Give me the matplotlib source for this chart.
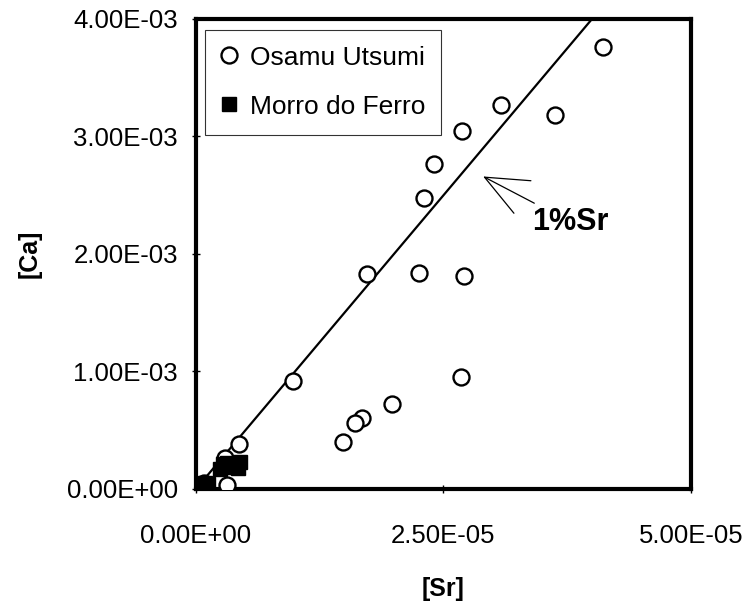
import numpy as np
import matplotlib
matplotlib.use('Agg')
import matplotlib.pyplot as plt

plt.rcParams['font.family'] = ['Liberation Sans', 'DejaVu Sans']

# Osamu Utsumi samples (Sr, Ca)
utsumi_sr = [4.11e-05, 3.08e-05, 3.63e-05, 2.69e-05, 2.40e-05, 2.30e-05,
             1.73e-05, 2.25e-05, 2.71e-05, 0.98e-05, 2.68e-05, 1.98e-05,
             1.68e-05, 1.61e-05, 1.49e-05, 0.43e-05, 0.29e-05, 0.31e-05,
             0.08e-05, 0.04e-05]
utsumi_ca = [3.76e-03, 3.27e-03, 3.18e-03, 3.05e-03, 2.77e-03, 2.48e-03,
             1.83e-03, 1.84e-03, 1.81e-03, 0.92e-03, 0.95e-03, 0.72e-03,
             0.60e-03, 0.56e-03, 0.40e-03, 0.38e-03, 0.26e-03, 0.03e-03,
             0.05e-03, 0.02e-03]

# Morro do Ferro samples (Sr, Ca)
ferro_sr = [0.24e-05, 0.29e-05, 0.34e-05, 0.39e-05, 0.44e-05, 0.42e-05,
            0.31e-05, 0.27e-05, 0.05e-05, 0.09e-05, 0.02e-05, 0.07e-05,
            0.12e-05]
ferro_ca = [0.17e-03, 0.19e-03, 0.20e-03, 0.21e-03, 0.23e-03, 0.18e-03,
            0.22e-03, 0.21e-03, 0.03e-03, 0.05e-03, 0.01e-03, 0.00e-03,
            0.04e-03]

# 1% Sr reference line: Ca = Sr / 0.01
line_sr = np.array([0.0, 4.2e-05])
line_ca = line_sr / 0.01

xticks = [0.0, 2.5e-05, 5.0e-05]
xticklabels = ['0.00E+00', '2.50E-05', '5.00E-05']
yticks = [0.0, 1e-03, 2e-03, 3e-03, 4e-03]
yticklabels = ['0.00E+00', '1.00E-03', '2.00E-03', '3.00E-03', '4.00E-03']

fig = plt.figure(figsize=(7.52, 6.01), dpi=100)
ax = fig.add_axes([0.2606, 0.1864, 0.6583, 0.782])

ax.plot(line_sr, line_ca, color='black', lw=1.6, zorder=2)
ax.plot(utsumi_sr, utsumi_ca, linestyle='none', marker='o', markersize=11.5,
        markerfacecolor='white', markeredgecolor='black', markeredgewidth=1.7,
        label='Osamu Utsumi', zorder=3)
ax.plot(ferro_sr, ferro_ca, linestyle='none', marker='s', markersize=10,
        markerfacecolor='black', markeredgecolor='black',
        label='Morro do Ferro', zorder=4)

ax.set_xlim(0, 5e-05)
ax.set_ylim(0, 4e-03)
ax.set_xticks(xticks)
ax.set_xticklabels(xticklabels, fontsize=18.5)
ax.set_yticks(yticks)
ax.set_yticklabels(yticklabels, fontsize=18.5)
ax.tick_params(direction='inout', length=6, width=1)
ax.tick_params(axis='x', pad=22)
ax.tick_params(axis='y', pad=10)

for s in ax.spines.values():
    s.set_linewidth(3)

ax.set_xlabel('[Sr]', fontsize=18, fontweight='bold')
ax.xaxis.set_label_coords(0.5, -0.188)
ax.set_ylabel('[Ca]', fontsize=18, fontweight='bold', labelpad=18)

ax.annotate('1%Sr', xy=(2.90e-05, 2.66e-03), xytext=(3.40e-05, 2.27e-03),
            fontsize=22, fontweight='bold', ha='left', va='center',
            arrowprops=dict(arrowstyle='->,head_length=1.4,head_width=0.6',
                            color='black', lw=0.9, shrinkA=2, shrinkB=0))

leg = ax.legend(loc='upper left', bbox_to_anchor=(0.018, 0.977), fontsize=19,
                frameon=True, fancybox=False, edgecolor='black',
                handlelength=0.6, handletextpad=0.5, labelspacing=0.95,
                borderpad=0.6, borderaxespad=0)
leg.get_frame().set_linewidth(0.8)

fig.savefig('out.png', dpi=100)
